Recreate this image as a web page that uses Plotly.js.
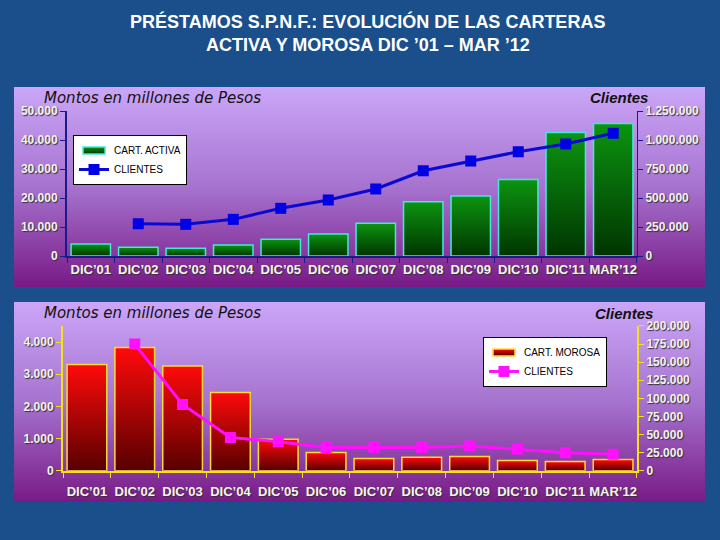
<!DOCTYPE html>
<html><head><meta charset="utf-8">
<script src="https://cdn.plot.ly/plotly-3.0.1.min.js"></script>
<style>html,body{margin:0;padding:0;background:#1b4f8b;}#chart{width:720px;height:540px;}</style>
</head><body><div id="chart"></div>
<script>
const categories = ["DIC’01","DIC’02","DIC’03","DIC’04","DIC’05","DIC’06","DIC’07","DIC’08","DIC’09","DIC’10","DIC’11","MAR’12"];
const carteraActiva = [4100, 3000, 2650, 3800, 5750, 7600, 11300, 18700, 20700, 26400, 42600, 45700];
const clientesActiva = [null, 278000, 273000, 316000, 411000, 483000, 578000, 735000, 819000, 899000, 966000, 1058000];
const carteraMorosa = [3300, 3830, 3260, 2430, 980, 570, 380, 420, 440, 320, 290, 350];
const clientesMorosa = [null, 175000, 91600, 46000, 40000, 32000, 32000, 32000, 34000, 30000, 25000, 22600];
const ticksActivaMontos = [0, 10000, 20000, 30000, 40000, 50000];
const ticksActivaClientes = [0, 250000, 500000, 750000, 1000000, 1250000];
const ticksMorosaMontos = [0, 1000, 2000, 3000, 4000];
const ticksMorosaClientes = [0, 25000, 50000, 75000, 100000, 125000, 150000, 175000, 200000];

const FONT = 'Liberation Sans, Arial, sans-serif';
const NAVY = '#1a1a8c';
const YEL = '#f2e21a';
const tickFont = {family: FONT, size: 12, color: '#f2f2f2', weight: 'bold', shadow: '1px 1px 1px #333'};
const xTickFont = {family: FONT, size: 13, color: '#f4f4f4', weight: 'bold', shadow: '1px 1px 1px #333'};

const panelSvg = "data:image/svg+xml;charset=utf-8," + encodeURIComponent(
  "<svg xmlns='http://www.w3.org/2000/svg' width='100' height='100' preserveAspectRatio='none'>" +
  "<defs><linearGradient id='g' x1='0' y1='0' x2='0' y2='1'>" +
  "<stop offset='0' stop-color='#cba6f8'/><stop offset='0.5' stop-color='#a673cf'/><stop offset='1' stop-color='#781a86'/>" +
  "</linearGradient></defs><rect width='100' height='100' fill='url(#g)'/></svg>");

const traces = [
  {type: 'bar', x: categories, y: carteraActiva, name: 'CART. ACTIVA', xaxis: 'x', yaxis: 'y', legend: 'legend',
   marker: {color: 'rgb(10,122,10)', line: {color: '#46e6dc', width: 1.5}}},
  {type: 'scatter', mode: 'lines+markers', x: categories, y: clientesActiva, name: 'CLIENTES', xaxis: 'x', yaxis: 'y2', legend: 'legend',
   line: {color: '#0a0ad2', width: 3}, marker: {symbol: 'square', size: 11, color: '#0000e6'}},
  {type: 'bar', x: categories, y: carteraMorosa, name: 'CART. MOROSA', xaxis: 'x2', yaxis: 'y3', legend: 'legend2',
   marker: {color: 'rgb(180,0,0)', line: {color: '#ffd93a', width: 1.5}}},
  {type: 'scatter', mode: 'lines+markers', x: categories, y: clientesMorosa, name: 'CLIENTES', xaxis: 'x2', yaxis: 'y4', legend: 'legend2',
   line: {color: '#ff10ff', width: 3}, marker: {symbol: 'square', size: 11, color: '#ff10ff'}}
];

function yAx(extra) {
  return Object.assign({showgrid: false, zeroline: false, showline: true, ticks: 'outside', ticklen: 5,
    tickformat: ',', tickfont: tickFont, fixedrange: true}, extra);
}
function xAx(extra) {
  return Object.assign({type: 'category', range: [-0.5, categories.length - 0.5], showgrid: false, zeroline: false,
    showline: true, linewidth: 2, tickangle: 0,
    ticks: 'outside', tickson: 'boundaries', ticklen: 5, tickfont: xTickFont, fixedrange: true}, extra);
}

const legendBase = {xanchor: 'left', yanchor: 'top', bgcolor: '#ffffff', bordercolor: '#000', borderwidth: 1,
  font: {family: FONT, size: 10, color: '#000'}, tracegroupgap: 0, entrywidth: 98, entrywidthmode: 'pixels'};

const layout = {
  width: 720, height: 540,
  margin: {l: 0, r: 0, t: 0, b: 0},
  paper_bgcolor: '#1b4f8b',
  plot_bgcolor: '#dce8f4',
  separators: ',.',
  bargap: 0.17,
  font: {family: FONT},
  xaxis: xAx({domain: [0.0931, 0.8847], anchor: 'y', linecolor: NAVY, tickcolor: NAVY}),
  yaxis: yAx({domain: [0.5259, 0.7944], anchor: 'x', range: [0, 50000], tickvals: ticksActivaMontos,
    linecolor: NAVY, tickcolor: NAVY, linewidth: 2}),
  yaxis2: yAx({overlaying: 'y', side: 'right', anchor: 'x', range: [0, 1250000], tickvals: ticksActivaClientes,
    linecolor: NAVY, tickcolor: NAVY, linewidth: 1}),
  xaxis2: xAx({domain: [0.0875, 0.8847], anchor: 'y3', linecolor: YEL, tickcolor: YEL, ticklabelstandoff: 8}),
  yaxis3: yAx({domain: [0.1283, 0.3963], anchor: 'x2', range: [0, 4500], tickvals: ticksMorosaMontos,
    linecolor: YEL, tickcolor: YEL, linewidth: 2}),
  yaxis4: yAx({overlaying: 'y3', side: 'right', anchor: 'x2', range: [0, 200000], tickvals: ticksMorosaClientes,
    linecolor: YEL, tickcolor: YEL, linewidth: 2}),
  showlegend: true,
  legend: Object.assign({x: 0.1014, y: 0.75}, legendBase),
  legend2: Object.assign({x: 0.6708, y: 0.376}, legendBase),
  images: [
    {source: panelSvg, xref: 'paper', yref: 'paper', x: 14/720, y: 1 - 87/540, sizex: 691/720, sizey: 200/540,
     sizing: 'stretch', layer: 'below', xanchor: 'left', yanchor: 'top'},
    {source: panelSvg, xref: 'paper', yref: 'paper', x: 14/720, y: 1 - 302/540, sizex: 691/720, sizey: 200/540,
     sizing: 'stretch', layer: 'below', xanchor: 'left', yanchor: 'top'}
  ],
  annotations: [
    {text: 'PRÉSTAMOS S.P.N.F.: EVOLUCIÓN DE LAS CARTERAS', xref: 'paper', yref: 'paper', x: 0.511, y: 1 - 21.5/540,
     xanchor: 'center', yanchor: 'middle', showarrow: false, font: {family: FONT, size: 18, color: '#fff', weight: 'bold'}},
    {text: 'ACTIVA Y MOROSA DIC ’01 – MAR ’12', xref: 'paper', yref: 'paper', x: 0.511, y: 1 - 45/540,
     xanchor: 'center', yanchor: 'middle', showarrow: false, font: {family: FONT, size: 18, color: '#fff', weight: 'bold'}},
    {text: 'Montos en millones de Pesos', xref: 'paper', yref: 'paper', x: 42/720, y: 1 - 98/540,
     xanchor: 'left', yanchor: 'middle', showarrow: false, font: {family: 'DejaVu Sans', size: 15, color: '#111', style: 'italic'}},
    {text: 'Clientes', xref: 'paper', yref: 'paper', x: 650/720, y: 1 - 98/540,
     xanchor: 'right', yanchor: 'middle', showarrow: false, font: {family: FONT, size: 15, color: '#111', style: 'italic', weight: 'bold'}},
    {text: 'Montos en millones de Pesos', xref: 'paper', yref: 'paper', x: 42/720, y: 1 - 313/540,
     xanchor: 'left', yanchor: 'middle', showarrow: false, font: {family: 'DejaVu Sans', size: 15, color: '#111', style: 'italic'}},
    {text: 'Clientes', xref: 'paper', yref: 'paper', x: 655/720, y: 1 - 313/540,
     xanchor: 'right', yanchor: 'middle', showarrow: false, font: {family: FONT, size: 15, color: '#111', style: 'italic', weight: 'bold'}}
  ]
};

function addGradients() {
  const svg = document.querySelector('#chart .main-svg');
  if (!svg) return;
  const ns = 'http://www.w3.org/2000/svg';
  let defs = svg.querySelector('defs');
  if (!defs) { defs = document.createElementNS(ns, 'defs'); svg.insertBefore(defs, svg.firstChild); }
  function grad(id, c1, c2) {
    const g = document.createElementNS(ns, 'linearGradient');
    g.setAttribute('id', id); g.setAttribute('x1', '0'); g.setAttribute('y1', '0'); g.setAttribute('x2', '0'); g.setAttribute('y2', '1');
    const s1 = document.createElementNS(ns, 'stop'); s1.setAttribute('offset', '0'); s1.setAttribute('stop-color', c1);
    const s2 = document.createElementNS(ns, 'stop'); s2.setAttribute('offset', '1'); s2.setAttribute('stop-color', c2);
    g.appendChild(s1); g.appendChild(s2); defs.appendChild(g);
  }
  grad('gGreen', '#0c9410', '#003400');
  grad('gRed', '#ff0a0a', '#560000');
  document.querySelectorAll('#chart path').forEach(p => {
    const f = p.style.fill;
    const isBar = (f === 'rgb(10, 122, 10)' || f === 'rgb(180, 0, 0)');
    if (!isBar) return;
    p.style.fill = (f === 'rgb(10, 122, 10)') ? 'url(#gGreen)' : 'url(#gRed)';
    if (p.closest('.legendpoints')) p.setAttribute('d', 'M11,3.5H-11V-3.5H11Z');
  });
}

Plotly.newPlot('chart', traces, layout, {displayModeBar: false, staticPlot: true}).then(addGradients);
</script>
</body></html>
